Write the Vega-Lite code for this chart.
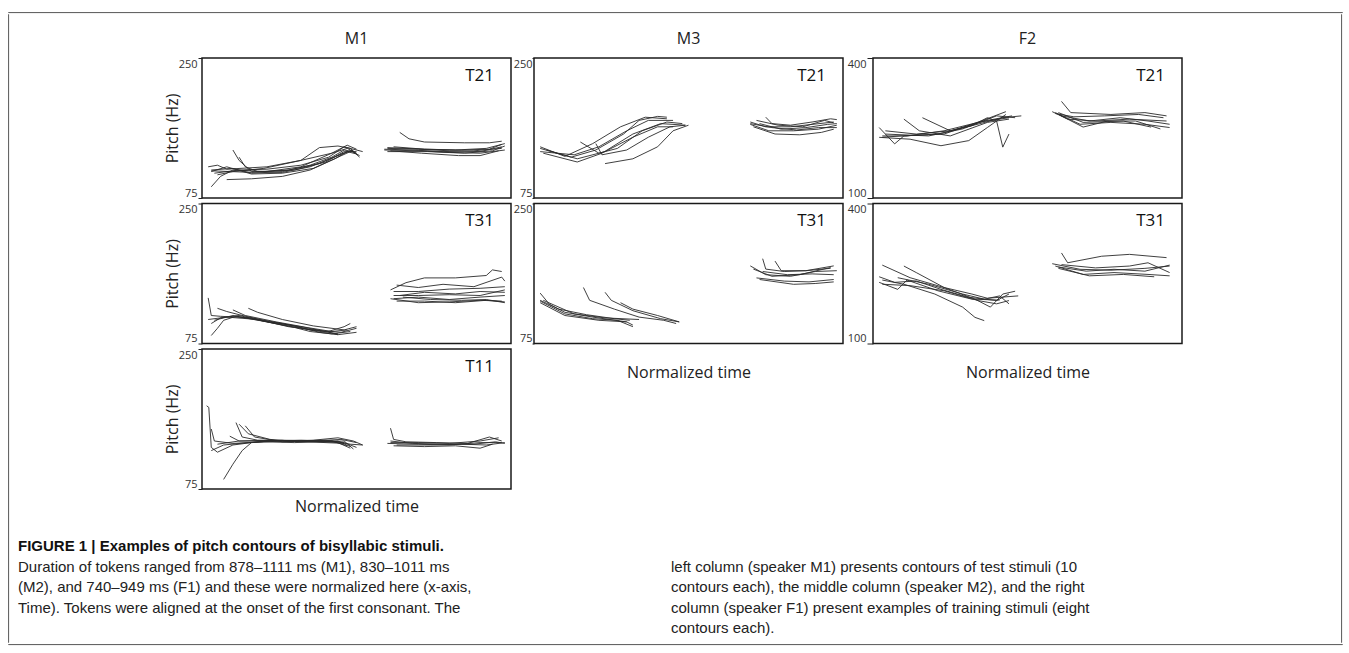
{
"$schema": "https://vega.github.io/schema/vega-lite/v6.json",
"padding": {"left": 7, "top": 11, "right": 5, "bottom": 5},
"background": "white",
"config": {
 "view": {"stroke": "#1a1a1a", "strokeWidth": 1.5},
 "font": "Open Sans",
 "axis": {"domain": false, "grid": false, "labelFlush": true, "labelFont": "Open Sans", "labelFontSize": 11, "labelColor": "#333", "labelPadding": 1, "tickColor": "#222", "titleFont": "Open Sans", "titleFontSize": 16, "titleFontWeight": "normal", "titleColor": "#222"},
 "title": {"font": "Open Sans", "fontSize": 16, "fontWeight": "normal", "color": "#222", "anchor": "middle", "frame": "group", "baseline": "alphabetic", "offset": 11}
},
"datasets": {
 "none": [],
 "m1t21": [
  {"c":"a1","t":0.03,"f":110},{"c":"a1","t":0.10,"f":112},{"c":"a1","t":0.16,"f":106},{"c":"a1","t":0.26,"f":108},{"c":"a1","t":0.35,"f":116},{"c":"a1","t":0.42,"f":126},{"c":"a1","t":0.46,"f":135},{"c":"a1","t":0.49,"f":133},{"c":"a1","t":0.51,"f":126},
  {"c":"a2","t":0.03,"f":89},{"c":"a2","t":0.06,"f":102},{"c":"a2","t":0.10,"f":110},{"c":"a2","t":0.21,"f":108},{"c":"a2","t":0.32,"f":114},{"c":"a2","t":0.42,"f":131},{"c":"a2","t":0.47,"f":137},{"c":"a2","t":0.50,"f":131},
  {"c":"a3","t":0.10,"f":135},{"c":"a3","t":0.12,"f":122},{"c":"a3","t":0.16,"f":108},{"c":"a3","t":0.26,"f":107},{"c":"a3","t":0.35,"f":114},{"c":"a3","t":0.44,"f":128},{"c":"a3","t":0.48,"f":134},{"c":"a3","t":0.51,"f":128},
  {"c":"a4","t":0.08,"f":98},{"c":"a4","t":0.16,"f":99},{"c":"a4","t":0.26,"f":102},{"c":"a4","t":0.35,"f":110},{"c":"a4","t":0.43,"f":124},{"c":"a4","t":0.47,"f":133},{"c":"a4","t":0.50,"f":130},
  {"c":"a5","t":0.02,"f":114},{"c":"a5","t":0.05,"f":116},{"c":"a5","t":0.08,"f":111},{"c":"a5","t":0.21,"f":114},{"c":"a5","t":0.32,"f":122},{"c":"a5","t":0.38,"f":138},{"c":"a5","t":0.44,"f":140},{"c":"a5","t":0.48,"f":137},{"c":"a5","t":0.50,"f":130},
  {"c":"a6","t":0.04,"f":106},{"c":"a6","t":0.12,"f":110},{"c":"a6","t":0.21,"f":111},{"c":"a6","t":0.32,"f":116},{"c":"a6","t":0.41,"f":126},{"c":"a6","t":0.46,"f":139},{"c":"a6","t":0.49,"f":136},{"c":"a6","t":0.52,"f":133},
  {"c":"a7","t":0.03,"f":108},{"c":"a7","t":0.08,"f":114},{"c":"a7","t":0.16,"f":105},{"c":"a7","t":0.26,"f":106},{"c":"a7","t":0.36,"f":112},{"c":"a7","t":0.44,"f":126},{"c":"a7","t":0.48,"f":133},
  {"c":"a8","t":0.12,"f":126},{"c":"a8","t":0.14,"f":114},{"c":"a8","t":0.18,"f":108},{"c":"a8","t":0.30,"f":110},{"c":"a8","t":0.40,"f":120},{"c":"a8","t":0.46,"f":133},{"c":"a8","t":0.50,"f":133},
  {"c":"a9","t":0.05,"f":104},{"c":"a9","t":0.10,"f":108},{"c":"a9","t":0.20,"f":112},{"c":"a9","t":0.32,"f":122},{"c":"a9","t":0.42,"f":131},{"c":"a9","t":0.47,"f":141},{"c":"a9","t":0.50,"f":136},
  {"c":"a10","t":0.03,"f":109},{"c":"a10","t":0.16,"f":107},{"c":"a10","t":0.28,"f":110},{"c":"a10","t":0.38,"f":118},{"c":"a10","t":0.45,"f":130},{"c":"a10","t":0.49,"f":135},
  {"c":"b1","t":0.64,"f":157},{"c":"b1","t":0.67,"f":149},{"c":"b1","t":0.72,"f":145},{"c":"b1","t":0.85,"f":144},{"c":"b1","t":0.93,"f":144},{"c":"b1","t":0.97,"f":146},
  {"c":"b2","t":0.60,"f":137},{"c":"b2","t":0.70,"f":136},{"c":"b2","t":0.80,"f":134},{"c":"b2","t":0.90,"f":133},{"c":"b2","t":0.97,"f":139},
  {"c":"b3","t":0.59,"f":135},{"c":"b3","t":0.70,"f":134},{"c":"b3","t":0.80,"f":132},{"c":"b3","t":0.90,"f":131},{"c":"b3","t":0.98,"f":135},
  {"c":"b4","t":0.60,"f":138},{"c":"b4","t":0.72,"f":136},{"c":"b4","t":0.82,"f":135},{"c":"b4","t":0.92,"f":137},{"c":"b4","t":0.98,"f":143},
  {"c":"b5","t":0.61,"f":134},{"c":"b5","t":0.71,"f":131},{"c":"b5","t":0.83,"f":128},{"c":"b5","t":0.90,"f":128},{"c":"b5","t":0.96,"f":134},
  {"c":"b6","t":0.59,"f":136},{"c":"b6","t":0.68,"f":135},{"c":"b6","t":0.78,"f":133},{"c":"b6","t":0.88,"f":134},{"c":"b6","t":0.97,"f":137},
  {"c":"b7","t":0.60,"f":133},{"c":"b7","t":0.73,"f":133},{"c":"b7","t":0.85,"f":131},{"c":"b7","t":0.94,"f":134},{"c":"b7","t":0.98,"f":140},
  {"c":"b8","t":0.62,"f":139},{"c":"b8","t":0.72,"f":136},{"c":"b8","t":0.84,"f":135},{"c":"b8","t":0.93,"f":136},{"c":"b8","t":0.97,"f":142}
 ],
 "m1t31": [
  {"c":"a1","t":0.02,"f":132},{"c":"a1","t":0.03,"f":110},{"c":"a1","t":0.06,"f":109},{"c":"a1","t":0.16,"f":107},{"c":"a1","t":0.26,"f":100},{"c":"a1","t":0.35,"f":92},{"c":"a1","t":0.45,"f":89},{"c":"a1","t":0.50,"f":94},
  {"c":"a2","t":0.03,"f":85},{"c":"a2","t":0.05,"f":94},{"c":"a2","t":0.07,"f":104},{"c":"a2","t":0.11,"f":109},{"c":"a2","t":0.21,"f":102},{"c":"a2","t":0.32,"f":94},{"c":"a2","t":0.40,"f":89},{"c":"a2","t":0.46,"f":96},{"c":"a2","t":0.48,"f":100},
  {"c":"a3","t":0.03,"f":100},{"c":"a3","t":0.06,"f":107},{"c":"a3","t":0.12,"f":110},{"c":"a3","t":0.21,"f":102},{"c":"a3","t":0.30,"f":95},{"c":"a3","t":0.35,"f":90},{"c":"a3","t":0.42,"f":87},{"c":"a3","t":0.48,"f":90},
  {"c":"a4","t":0.05,"f":119},{"c":"a4","t":0.08,"f":115},{"c":"a4","t":0.12,"f":111},{"c":"a4","t":0.22,"f":102},{"c":"a4","t":0.32,"f":96},{"c":"a4","t":0.40,"f":90},{"c":"a4","t":0.44,"f":86},
  {"c":"a5","t":0.15,"f":119},{"c":"a5","t":0.18,"f":114},{"c":"a5","t":0.26,"f":105},{"c":"a5","t":0.36,"f":97},{"c":"a5","t":0.46,"f":92},{"c":"a5","t":0.50,"f":96},
  {"c":"a6","t":0.04,"f":104},{"c":"a6","t":0.10,"f":110},{"c":"a6","t":0.20,"f":103},{"c":"a6","t":0.30,"f":97},{"c":"a6","t":0.38,"f":89},{"c":"a6","t":0.44,"f":86},{"c":"a6","t":0.50,"f":89},
  {"c":"a7","t":0.10,"f":117},{"c":"a7","t":0.14,"f":110},{"c":"a7","t":0.24,"f":102},{"c":"a7","t":0.34,"f":95},{"c":"a7","t":0.42,"f":90},{"c":"a7","t":0.47,"f":92},
  {"c":"a8","t":0.02,"f":105},{"c":"a8","t":0.08,"f":108},{"c":"a8","t":0.18,"f":105},{"c":"a8","t":0.28,"f":96},{"c":"a8","t":0.37,"f":92},{"c":"a8","t":0.44,"f":87},
  {"c":"b1","t":0.61,"f":142},{"c":"b1","t":0.66,"f":151},{"c":"b1","t":0.72,"f":157},{"c":"b1","t":0.82,"f":157},{"c":"b1","t":0.92,"f":160},{"c":"b1","t":0.94,"f":167},{"c":"b1","t":0.97,"f":165},
  {"c":"b2","t":0.63,"f":148},{"c":"b2","t":0.70,"f":145},{"c":"b2","t":0.78,"f":149},{"c":"b2","t":0.88,"f":146},{"c":"b2","t":0.97,"f":158},{"c":"b2","t":0.98,"f":153},
  {"c":"b3","t":0.62,"f":140},{"c":"b3","t":0.70,"f":140},{"c":"b3","t":0.80,"f":143},{"c":"b3","t":0.90,"f":144},{"c":"b3","t":0.98,"f":146},
  {"c":"b4","t":0.64,"f":135},{"c":"b4","t":0.72,"f":139},{"c":"b4","t":0.82,"f":137},{"c":"b4","t":0.90,"f":140},{"c":"b4","t":0.98,"f":139},
  {"c":"b5","t":0.62,"f":131},{"c":"b5","t":0.70,"f":133},{"c":"b5","t":0.80,"f":130},{"c":"b5","t":0.90,"f":133},{"c":"b5","t":0.98,"f":135},
  {"c":"b6","t":0.63,"f":128},{"c":"b6","t":0.72,"f":128},{"c":"b6","t":0.82,"f":126},{"c":"b6","t":0.92,"f":129},{"c":"b6","t":0.98,"f":127},
  {"c":"b7","t":0.65,"f":133},{"c":"b7","t":0.74,"f":130},{"c":"b7","t":0.84,"f":129},{"c":"b7","t":0.92,"f":130},{"c":"b7","t":0.98,"f":126},
  {"c":"b8","t":0.61,"f":131},{"c":"b8","t":0.70,"f":126},{"c":"b8","t":0.80,"f":127},{"c":"b8","t":0.90,"f":129},{"c":"b8","t":0.97,"f":128},
  {"c":"b9","t":0.62,"f":135},{"c":"b9","t":0.70,"f":135},{"c":"b9","t":0.80,"f":136},{"c":"b9","t":0.90,"f":135},{"c":"b9","t":0.98,"f":142}
 ],
 "m1t11": [
  {"c":"a1","t":0.015,"f":179},{"c":"a1","t":0.022,"f":177},{"c":"a1","t":0.03,"f":127},{"c":"a1","t":0.05,"f":121},{"c":"a1","t":0.10,"f":130},{"c":"a1","t":0.20,"f":135},{"c":"a1","t":0.32,"f":136},{"c":"a1","t":0.42,"f":135},{"c":"a1","t":0.48,"f":131},{"c":"a1","t":0.52,"f":130},
  {"c":"a2","t":0.03,"f":123},{"c":"a2","t":0.07,"f":130},{"c":"a2","t":0.15,"f":133},{"c":"a2","t":0.26,"f":136},{"c":"a2","t":0.36,"f":135},{"c":"a2","t":0.45,"f":137},{"c":"a2","t":0.50,"f":133},
  {"c":"a3","t":0.07,"f":87},{"c":"a3","t":0.10,"f":106},{"c":"a3","t":0.13,"f":123},{"c":"a3","t":0.16,"f":133},{"c":"a3","t":0.26,"f":135},{"c":"a3","t":0.38,"f":134},{"c":"a3","t":0.46,"f":135},{"c":"a3","t":0.49,"f":125},
  {"c":"a4","t":0.11,"f":158},{"c":"a4","t":0.13,"f":140},{"c":"a4","t":0.18,"f":136},{"c":"a4","t":0.28,"f":135},{"c":"a4","t":0.40,"f":136},{"c":"a4","t":0.46,"f":133},{"c":"a4","t":0.50,"f":127},
  {"c":"a5","t":0.12,"f":156},{"c":"a5","t":0.15,"f":144},{"c":"a5","t":0.22,"f":137},{"c":"a5","t":0.32,"f":134},{"c":"a5","t":0.44,"f":135},{"c":"a5","t":0.48,"f":128},
  {"c":"a6","t":0.14,"f":154},{"c":"a6","t":0.17,"f":140},{"c":"a6","t":0.26,"f":134},{"c":"a6","t":0.36,"f":136},{"c":"a6","t":0.44,"f":139},{"c":"a6","t":0.49,"f":135},{"c":"a6","t":0.52,"f":130},
  {"c":"a7","t":0.03,"f":150},{"c":"a7","t":0.04,"f":135},{"c":"a7","t":0.10,"f":132},{"c":"a7","t":0.20,"f":134},{"c":"a7","t":0.30,"f":133},{"c":"a7","t":0.42,"f":135},{"c":"a7","t":0.47,"f":129},
  {"c":"a8","t":0.05,"f":131},{"c":"a8","t":0.12,"f":135},{"c":"a8","t":0.22,"f":136},{"c":"a8","t":0.34,"f":135},{"c":"a8","t":0.44,"f":133},{"c":"a8","t":0.48,"f":126},
  {"c":"a9","t":0.09,"f":141},{"c":"a9","t":0.12,"f":135},{"c":"a9","t":0.22,"f":135},{"c":"a9","t":0.34,"f":134},{"c":"a9","t":0.46,"f":132},
  {"c":"b1","t":0.61,"f":151},{"c":"b1","t":0.62,"f":137},{"c":"b1","t":0.66,"f":134},{"c":"b1","t":0.76,"f":133},{"c":"b1","t":0.86,"f":132},{"c":"b1","t":0.93,"f":140},{"c":"b1","t":0.97,"f":135},
  {"c":"b2","t":0.60,"f":132},{"c":"b2","t":0.70,"f":131},{"c":"b2","t":0.80,"f":130},{"c":"b2","t":0.90,"f":133},{"c":"b2","t":0.97,"f":133},
  {"c":"b3","t":0.61,"f":135},{"c":"b3","t":0.68,"f":132},{"c":"b3","t":0.78,"f":131},{"c":"b3","t":0.88,"f":131},{"c":"b3","t":0.95,"f":134},{"c":"b3","t":0.98,"f":132},
  {"c":"b4","t":0.62,"f":129},{"c":"b4","t":0.72,"f":128},{"c":"b4","t":0.82,"f":129},{"c":"b4","t":0.90,"f":126},{"c":"b4","t":0.94,"f":131},
  {"c":"b5","t":0.61,"f":133},{"c":"b5","t":0.70,"f":133},{"c":"b5","t":0.80,"f":132},{"c":"b5","t":0.90,"f":135},{"c":"b5","t":0.96,"f":139},
  {"c":"b6","t":0.63,"f":130},{"c":"b6","t":0.74,"f":130},{"c":"b6","t":0.84,"f":131},{"c":"b6","t":0.92,"f":130},{"c":"b6","t":0.98,"f":133}
 ],
 "m3t21": [
  {"c":"a1","t":0.02,"f":139},{"c":"a1","t":0.10,"f":127},{"c":"a1","t":0.19,"f":143},{"c":"a1","t":0.28,"f":164},{"c":"a1","t":0.36,"f":176},{"c":"a1","t":0.43,"f":174},
  {"c":"a2","t":0.02,"f":133},{"c":"a2","t":0.13,"f":129},{"c":"a2","t":0.21,"f":139},{"c":"a2","t":0.30,"f":159},{"c":"a2","t":0.37,"f":172},{"c":"a2","t":0.45,"f":172},
  {"c":"a3","t":0.03,"f":131},{"c":"a3","t":0.14,"f":120},{"c":"a3","t":0.22,"f":131},{"c":"a3","t":0.32,"f":155},{"c":"a3","t":0.41,"f":168},{"c":"a3","t":0.49,"f":166},
  {"c":"a4","t":0.15,"f":145},{"c":"a4","t":0.21,"f":131},{"c":"a4","t":0.27,"f":137},{"c":"a4","t":0.35,"f":159},{"c":"a4","t":0.43,"f":170},{"c":"a4","t":0.48,"f":168},
  {"c":"a5","t":0.20,"f":143},{"c":"a5","t":0.22,"f":129},{"c":"a5","t":0.30,"f":135},{"c":"a5","t":0.37,"f":151},{"c":"a5","t":0.44,"f":164},{"c":"a5","t":0.49,"f":166},
  {"c":"a6","t":0.23,"f":118},{"c":"a6","t":0.32,"f":124},{"c":"a6","t":0.40,"f":139},{"c":"a6","t":0.45,"f":159},{"c":"a6","t":0.50,"f":166},
  {"c":"a7","t":0.02,"f":137},{"c":"a7","t":0.12,"f":126},{"c":"a7","t":0.20,"f":135},{"c":"a7","t":0.29,"f":155},{"c":"a7","t":0.34,"f":172},{"c":"a7","t":0.40,"f":177},{"c":"a7","t":0.43,"f":176},
  {"c":"a8","t":0.04,"f":135},{"c":"a8","t":0.14,"f":124},{"c":"a8","t":0.23,"f":133},{"c":"a8","t":0.32,"f":151},{"c":"a8","t":0.40,"f":164},{"c":"a8","t":0.45,"f":164},
  {"c":"b1","t":0.75,"f":176},{"c":"b1","t":0.77,"f":168},{"c":"b1","t":0.83,"f":166},{"c":"b1","t":0.90,"f":170},{"c":"b1","t":0.96,"f":174},{"c":"b1","t":0.98,"f":173},
  {"c":"b2","t":0.70,"f":170},{"c":"b2","t":0.75,"f":164},{"c":"b2","t":0.83,"f":164},{"c":"b2","t":0.90,"f":167},{"c":"b2","t":0.97,"f":170},
  {"c":"b3","t":0.70,"f":167},{"c":"b3","t":0.76,"f":159},{"c":"b3","t":0.84,"f":159},{"c":"b3","t":0.92,"f":161},{"c":"b3","t":0.98,"f":166},
  {"c":"b4","t":0.71,"f":164},{"c":"b4","t":0.78,"f":155},{"c":"b4","t":0.86,"f":154},{"c":"b4","t":0.93,"f":157},{"c":"b4","t":0.97,"f":161},
  {"c":"b5","t":0.73,"f":168},{"c":"b5","t":0.80,"f":161},{"c":"b5","t":0.88,"f":163},{"c":"b5","t":0.95,"f":167},{"c":"b5","t":0.98,"f":168},
  {"c":"b6","t":0.72,"f":172},{"c":"b6","t":0.79,"f":166},{"c":"b6","t":0.87,"f":164},{"c":"b6","t":0.94,"f":172},{"c":"b6","t":0.97,"f":169},
  {"c":"b7","t":0.70,"f":168},{"c":"b7","t":0.77,"f":163},{"c":"b7","t":0.85,"f":160},{"c":"b7","t":0.92,"f":163},{"c":"b7","t":0.98,"f":163}
 ],
 "m3t31": [
  {"c":"a1","t":0.02,"f":138},{"c":"a1","t":0.05,"f":124},{"c":"a1","t":0.10,"f":114},{"c":"a1","t":0.19,"f":108},{"c":"a1","t":0.30,"f":102},{"c":"a1","t":0.32,"f":98},
  {"c":"a2","t":0.02,"f":129},{"c":"a2","t":0.08,"f":118},{"c":"a2","t":0.17,"f":111},{"c":"a2","t":0.26,"f":106},{"c":"a2","t":0.31,"f":104},
  {"c":"a3","t":0.02,"f":126},{"c":"a3","t":0.10,"f":110},{"c":"a3","t":0.21,"f":104},{"c":"a3","t":0.30,"f":102},
  {"c":"a4","t":0.16,"f":145},{"c":"a4","t":0.18,"f":129},{"c":"a4","t":0.26,"f":118},{"c":"a4","t":0.34,"f":108},{"c":"a4","t":0.42,"f":104},{"c":"a4","t":0.46,"f":100},
  {"c":"a5","t":0.23,"f":139},{"c":"a5","t":0.25,"f":129},{"c":"a5","t":0.32,"f":116},{"c":"a5","t":0.41,"f":106},{"c":"a5","t":0.47,"f":102},
  {"c":"a6","t":0.28,"f":126},{"c":"a6","t":0.32,"f":118},{"c":"a6","t":0.40,"f":110},{"c":"a6","t":0.47,"f":102},
  {"c":"a7","t":0.02,"f":128},{"c":"a7","t":0.10,"f":112},{"c":"a7","t":0.19,"f":106},{"c":"a7","t":0.27,"f":104},{"c":"a7","t":0.32,"f":96},
  {"c":"a8","t":0.03,"f":129},{"c":"a8","t":0.13,"f":112},{"c":"a8","t":0.23,"f":107},{"c":"a8","t":0.34,"f":105},
  {"c":"b1","t":0.74,"f":181},{"c":"b1","t":0.75,"f":168},{"c":"b1","t":0.81,"f":165},{"c":"b1","t":0.88,"f":166},{"c":"b1","t":0.97,"f":172},
  {"c":"b2","t":0.78,"f":178},{"c":"b2","t":0.80,"f":166},{"c":"b2","t":0.88,"f":166},{"c":"b2","t":0.96,"f":169},
  {"c":"b3","t":0.70,"f":172},{"c":"b3","t":0.75,"f":161},{"c":"b3","t":0.83,"f":159},{"c":"b3","t":0.91,"f":165},{"c":"b3","t":0.98,"f":166},
  {"c":"b4","t":0.72,"f":157},{"c":"b4","t":0.81,"f":153},{"c":"b4","t":0.89,"f":152},{"c":"b4","t":0.97,"f":155},
  {"c":"b5","t":0.73,"f":155},{"c":"b5","t":0.84,"f":149},{"c":"b5","t":0.91,"f":150},{"c":"b5","t":0.97,"f":152},
  {"c":"b6","t":0.74,"f":165},{"c":"b6","t":0.82,"f":161},{"c":"b6","t":0.90,"f":162},{"c":"b6","t":0.97,"f":161},
  {"c":"b7","t":0.71,"f":168},{"c":"b7","t":0.77,"f":159},{"c":"b7","t":0.86,"f":161},{"c":"b7","t":0.96,"f":170}
 ],
 "f2t21": [
  {"c":"a1","t":0.02,"f":251},{"c":"a1","t":0.07,"f":216},{"c":"a1","t":0.10,"f":233},{"c":"a1","t":0.21,"f":237},{"c":"a1","t":0.32,"f":255},{"c":"a1","t":0.42,"f":272},{"c":"a1","t":0.48,"f":276},
  {"c":"a2","t":0.03,"f":233},{"c":"a2","t":0.11,"f":233},{"c":"a2","t":0.23,"f":244},{"c":"a2","t":0.34,"f":262},{"c":"a2","t":0.44,"f":272},
  {"c":"a3","t":0.04,"f":244},{"c":"a3","t":0.14,"f":237},{"c":"a3","t":0.25,"f":244},{"c":"a3","t":0.36,"f":265},{"c":"a3","t":0.45,"f":276},
  {"c":"a4","t":0.02,"f":230},{"c":"a4","t":0.12,"f":226},{"c":"a4","t":0.22,"f":212},{"c":"a4","t":0.31,"f":223},{"c":"a4","t":0.37,"f":251},{"c":"a4","t":0.43,"f":279},
  {"c":"a5","t":0.10,"f":269},{"c":"a5","t":0.15,"f":244},{"c":"a5","t":0.25,"f":233},{"c":"a5","t":0.37,"f":262},{"c":"a5","t":0.44,"f":269},
  {"c":"a6","t":0.16,"f":272},{"c":"a6","t":0.25,"f":244},{"c":"a6","t":0.32,"f":255},{"c":"a6","t":0.37,"f":272},{"c":"a6","t":0.40,"f":265},{"c":"a6","t":0.42,"f":209},{"c":"a6","t":0.44,"f":237},
  {"c":"a7","t":0.03,"f":230},{"c":"a7","t":0.09,"f":233},{"c":"a7","t":0.23,"f":237},{"c":"a7","t":0.35,"f":265},{"c":"a7","t":0.43,"f":285},
  {"c":"a8","t":0.04,"f":237},{"c":"a8","t":0.18,"f":233},{"c":"a8","t":0.29,"f":248},{"c":"a8","t":0.40,"f":276},{"c":"a8","t":0.46,"f":272},
  {"c":"b1","t":0.61,"f":307},{"c":"b1","t":0.64,"f":283},{"c":"b1","t":0.77,"f":279},{"c":"b1","t":0.88,"f":283},{"c":"b1","t":0.95,"f":276},
  {"c":"b2","t":0.58,"f":285},{"c":"b2","t":0.63,"f":269},{"c":"b2","t":0.72,"f":265},{"c":"b2","t":0.83,"f":269},{"c":"b2","t":0.95,"f":265},
  {"c":"b3","t":0.59,"f":283},{"c":"b3","t":0.67,"f":258},{"c":"b3","t":0.77,"f":262},{"c":"b3","t":0.88,"f":258},{"c":"b3","t":0.96,"f":251},
  {"c":"b4","t":0.60,"f":279},{"c":"b4","t":0.68,"f":252},{"c":"b4","t":0.76,"f":265},{"c":"b4","t":0.85,"f":265},{"c":"b4","t":0.93,"f":248},
  {"c":"b5","t":0.59,"f":281},{"c":"b5","t":0.65,"f":274},{"c":"b5","t":0.75,"f":276},{"c":"b5","t":0.86,"f":279},{"c":"b5","t":0.94,"f":272},
  {"c":"b6","t":0.61,"f":276},{"c":"b6","t":0.70,"f":265},{"c":"b6","t":0.80,"f":272},{"c":"b6","t":0.89,"f":265},{"c":"b6","t":0.96,"f":258},
  {"c":"b7","t":0.60,"f":283},{"c":"b7","t":0.68,"f":262},{"c":"b7","t":0.81,"f":265},{"c":"b7","t":0.90,"f":252}
 ],
 "f2t31": [
  {"c":"a1","t":0.03,"f":268},{"c":"a1","t":0.12,"f":241},{"c":"a1","t":0.23,"f":220},{"c":"a1","t":0.32,"f":206},{"c":"a1","t":0.37,"f":197},{"c":"a1","t":0.41,"f":199},{"c":"a1","t":0.47,"f":202},
  {"c":"a2","t":0.02,"f":243},{"c":"a2","t":0.07,"f":231},{"c":"a2","t":0.14,"f":234},{"c":"a2","t":0.22,"f":216},{"c":"a2","t":0.31,"f":199},{"c":"a2","t":0.40,"f":192},{"c":"a2","t":0.44,"f":206},
  {"c":"a3","t":0.02,"f":231},{"c":"a3","t":0.08,"f":216},{"c":"a3","t":0.11,"f":236},{"c":"a3","t":0.21,"f":213},{"c":"a3","t":0.32,"f":195},{"c":"a3","t":0.41,"f":193},
  {"c":"a4","t":0.10,"f":266},{"c":"a4","t":0.14,"f":252},{"c":"a4","t":0.23,"f":220},{"c":"a4","t":0.33,"f":195},{"c":"a4","t":0.38,"f":178},{"c":"a4","t":0.42,"f":206},{"c":"a4","t":0.46,"f":212},
  {"c":"a5","t":0.03,"f":236},{"c":"a5","t":0.10,"f":227},{"c":"a5","t":0.20,"f":206},{"c":"a5","t":0.29,"f":178},{"c":"a5","t":0.33,"f":156},{"c":"a5","t":0.36,"f":149},
  {"c":"a6","t":0.03,"f":227},{"c":"a6","t":0.12,"f":224},{"c":"a6","t":0.23,"f":213},{"c":"a6","t":0.34,"f":192},{"c":"a6","t":0.40,"f":185},{"c":"a6","t":0.44,"f":192},
  {"c":"a7","t":0.08,"f":241},{"c":"a7","t":0.18,"f":227},{"c":"a7","t":0.29,"f":206},{"c":"a7","t":0.36,"f":195},{"c":"a7","t":0.41,"f":202},{"c":"a7","t":0.44,"f":185},
  {"c":"b1","t":0.61,"f":294},{"c":"b1","t":0.63,"f":273},{"c":"b1","t":0.74,"f":287},{"c":"b1","t":0.83,"f":291},{"c":"b1","t":0.95,"f":284},
  {"c":"b2","t":0.58,"f":271},{"c":"b2","t":0.67,"f":259},{"c":"b2","t":0.77,"f":257},{"c":"b2","t":0.88,"f":261},{"c":"b2","t":0.96,"f":266},
  {"c":"b3","t":0.59,"f":266},{"c":"b3","t":0.68,"f":248},{"c":"b3","t":0.78,"f":252},{"c":"b3","t":0.89,"f":248},{"c":"b3","t":0.96,"f":245},
  {"c":"b4","t":0.60,"f":261},{"c":"b4","t":0.70,"f":245},{"c":"b4","t":0.81,"f":248},{"c":"b4","t":0.91,"f":243},
  {"c":"b5","t":0.61,"f":269},{"c":"b5","t":0.72,"f":262},{"c":"b5","t":0.83,"f":266},{"c":"b5","t":0.89,"f":273},{"c":"b5","t":0.96,"f":252},
  {"c":"b6","t":0.60,"f":264},{"c":"b6","t":0.69,"f":255},{"c":"b6","t":0.78,"f":259},{"c":"b6","t":0.88,"f":255},{"c":"b6","t":0.96,"f":268}
 ],
 "caption": [
  {"col":"left","line":0,"txt":"FIGURE 1 | Examples of pitch contours of bisyllabic stimuli.","w":"bold"},
  {"col":"left","line":1,"txt":"Duration of tokens ranged from 878–1111 ms (M1), 830–1011 ms","w":"body"},
  {"col":"left","line":2,"txt":"(M2), and 740–949 ms (F1) and these were normalized here (x-axis,","w":"body"},
  {"col":"left","line":3,"txt":"Time). Tokens were aligned at the onset of the first consonant. The","w":"body"},
  {"col":"right","line":1,"txt":"left column (speaker M1) presents contours of test stimuli (10","w":"body"},
  {"col":"right","line":2,"txt":"contours each), the middle column (speaker M2), and the right","w":"body"},
  {"col":"right","line":3,"txt":"column (speaker F1) present examples of training stimuli (eight","w":"body"},
  {"col":"right","line":4,"txt":"contours each).","w":"body"}
 ]
},
"spacing": 0,
"vconcat": [
 {"width": 1334, "height": 0.1, "view": {"stroke": "#666", "strokeWidth": 1}, "data": {"name": "none"}, "mark": {"type": "text"}, "encoding": {"text": {"field": "k"}}},
 {"spacing": 4, "hconcat": [
  {"width": 0.1, "height": 628, "view": {"stroke": "#666", "strokeWidth": 1}, "data": {"name": "none"}, "mark": {"type": "text"}, "encoding": {"text": {"field": "k"}}},
  {"spacing": 0, "vconcat": [
   {"width": 10, "height": 15, "view": {"stroke": null}, "data": {"name": "none"}, "mark": {"type": "text"}, "encoding": {"text": {"field": "k"}}},
   {"spacing": 24, "vconcat": [
    {"spacing": 0, "hconcat": [
     {"width": 150, "height": 10, "view": {"stroke": null}, "data": {"name": "none"}, "mark": {"type": "text"}, "encoding": {"text": {"field": "k"}}},
     {"bounds": "flush", "spacing": 5.5, "vconcat": [
      {"width": 309, "height": 140, "title": {"text": "M1"}, "layer": [
       {"data": {"name": "m1t21"}, "mark": {"type": "line", "strokeWidth": 0.9, "color": "#2a2a2a"}, "encoding": {
        "x": {"field": "t", "type": "quantitative", "scale": {"domain": [0, 1], "nice": false, "zero": false}, "axis": null},
        "y": {"field": "f", "type": "quantitative", "scale": {"domain": [75, 250], "nice": false, "zero": false}, "axis": {"values": [75, 250], "title": "Pitch (Hz)", "tickSize": 4, "titlePadding": -2}},
        "detail": {"field": "c"}}},
       {"data": {"values": [{"lab": "T21"}]}, "mark": {"type": "text", "align": "right", "baseline": "middle", "fontSize": 17, "font": "Open Sans", "color": "#111"}, "encoding": {"x": {"datum": 0.945}, "y": {"datum": 228}, "text": {"field": "lab"}}}
      ]},
      {"width": 309, "height": 140, "layer": [
       {"data": {"name": "m1t31"}, "mark": {"type": "line", "strokeWidth": 0.9, "color": "#2a2a2a"}, "encoding": {
        "x": {"field": "t", "type": "quantitative", "scale": {"domain": [0, 1], "nice": false, "zero": false}, "axis": null},
        "y": {"field": "f", "type": "quantitative", "scale": {"domain": [75, 250], "nice": false, "zero": false}, "axis": {"values": [75, 250], "title": "Pitch (Hz)", "tickSize": 4, "titlePadding": -2}},
        "detail": {"field": "c"}}},
       {"data": {"values": [{"lab": "T31"}]}, "mark": {"type": "text", "align": "right", "baseline": "middle", "fontSize": 17, "font": "Open Sans", "color": "#111"}, "encoding": {"x": {"datum": 0.945}, "y": {"datum": 228}, "text": {"field": "lab"}}}
      ]},
      {"width": 309, "height": 140, "layer": [
       {"data": {"name": "m1t11"}, "mark": {"type": "line", "strokeWidth": 0.9, "color": "#2a2a2a"}, "encoding": {
        "x": {"field": "t", "type": "quantitative", "scale": {"domain": [0, 1], "nice": false, "zero": false}, "axis": {"title": "Normalized time", "labels": false, "ticks": false, "domain": false, "titlePadding": 9}},
        "y": {"field": "f", "type": "quantitative", "scale": {"domain": [75, 250], "nice": false, "zero": false}, "axis": {"values": [75, 250], "title": "Pitch (Hz)", "tickSize": 4, "titlePadding": -2}},
        "detail": {"field": "c"}}},
       {"data": {"values": [{"lab": "T11"}]}, "mark": {"type": "text", "align": "right", "baseline": "middle", "fontSize": 17, "font": "Open Sans", "color": "#111"}, "encoding": {"x": {"datum": 0.945}, "y": {"datum": 228}, "text": {"field": "lab"}}}
      ]}
     ]},
     {"bounds": "flush", "spacing": 5.5, "vconcat": [
      {"width": 309, "height": 140, "title": {"text": "M3"}, "layer": [
       {"data": {"name": "m3t21"}, "mark": {"type": "line", "strokeWidth": 0.9, "color": "#2a2a2a"}, "encoding": {
        "x": {"field": "t", "type": "quantitative", "scale": {"domain": [0, 1], "nice": false, "zero": false}, "axis": null},
        "y": {"field": "f", "type": "quantitative", "scale": {"domain": [75, 250], "nice": false, "zero": false}, "axis": {"values": [75, 250], "title": null, "tickSize": 2, "labelPadding": 0}},
        "detail": {"field": "c"}}},
       {"data": {"values": [{"lab": "T21"}]}, "mark": {"type": "text", "align": "right", "baseline": "middle", "fontSize": 17, "font": "Open Sans", "color": "#111"}, "encoding": {"x": {"datum": 0.945}, "y": {"datum": 228}, "text": {"field": "lab"}}}
      ]},
      {"width": 309, "height": 140, "layer": [
       {"data": {"name": "m3t31"}, "mark": {"type": "line", "strokeWidth": 0.9, "color": "#2a2a2a"}, "encoding": {
        "x": {"field": "t", "type": "quantitative", "scale": {"domain": [0, 1], "nice": false, "zero": false}, "axis": {"title": "Normalized time", "labels": false, "ticks": false, "domain": false, "titlePadding": 21}},
        "y": {"field": "f", "type": "quantitative", "scale": {"domain": [75, 250], "nice": false, "zero": false}, "axis": {"values": [75, 250], "title": null, "tickSize": 2, "labelPadding": 0}},
        "detail": {"field": "c"}}},
       {"data": {"values": [{"lab": "T31"}]}, "mark": {"type": "text", "align": "right", "baseline": "middle", "fontSize": 17, "font": "Open Sans", "color": "#111"}, "encoding": {"x": {"datum": 0.945}, "y": {"datum": 228}, "text": {"field": "lab"}}}
      ]}
     ]},
     {"width": 2, "height": 10, "view": {"stroke": null}, "data": {"name": "none"}, "mark": {"type": "text"}, "encoding": {"text": {"field": "k"}}},
     {"bounds": "flush", "spacing": 5.5, "vconcat": [
      {"width": 309, "height": 140, "title": {"text": "F2"}, "layer": [
       {"data": {"name": "f2t21"}, "mark": {"type": "line", "strokeWidth": 0.9, "color": "#2a2a2a"}, "encoding": {
        "x": {"field": "t", "type": "quantitative", "scale": {"domain": [0, 1], "nice": false, "zero": false}, "axis": null},
        "y": {"field": "f", "type": "quantitative", "scale": {"domain": [100, 400], "nice": false, "zero": false}, "axis": {"values": [100, 400], "title": null, "tickSize": 6}},
        "detail": {"field": "c"}}},
       {"data": {"values": [{"lab": "T21"}]}, "mark": {"type": "text", "align": "right", "baseline": "middle", "fontSize": 17, "font": "Open Sans", "color": "#111"}, "encoding": {"x": {"datum": 0.945}, "y": {"datum": 362}, "text": {"field": "lab"}}}
      ]},
      {"width": 309, "height": 140, "layer": [
       {"data": {"name": "f2t31"}, "mark": {"type": "line", "strokeWidth": 0.9, "color": "#2a2a2a"}, "encoding": {
        "x": {"field": "t", "type": "quantitative", "scale": {"domain": [0, 1], "nice": false, "zero": false}, "axis": {"title": "Normalized time", "labels": false, "ticks": false, "domain": false, "titlePadding": 21}},
        "y": {"field": "f", "type": "quantitative", "scale": {"domain": [100, 400], "nice": false, "zero": false}, "axis": {"values": [100, 400], "title": null, "tickSize": 6}},
        "detail": {"field": "c"}}},
       {"data": {"values": [{"lab": "T31"}]}, "mark": {"type": "text", "align": "right", "baseline": "middle", "fontSize": 17, "font": "Open Sans", "color": "#111"}, "encoding": {"x": {"datum": 0.945}, "y": {"datum": 362}, "text": {"field": "lab"}}}
      ]}
     ]}
    ]},
    {"width": 1323, "height": 82, "view": {"stroke": null}, "data": {"name": "caption"},
     "encoding": {
      "x": {"field": "col", "type": "ordinal", "bandPosition": 0, "scale": {"type": "band", "domain": ["left", "right"], "paddingInner": 0, "paddingOuter": 0.013}, "axis": null},
      "y": {"field": "line", "type": "ordinal", "scale": {"type": "point", "domain": [0, 1, 2, 3, 4], "padding": 0}, "axis": null},
      "text": {"field": "txt"}},
     "layer": [
      {"transform": [{"filter": "datum.w === 'bold'"}], "mark": {"type": "text", "align": "left", "baseline": "middle", "dx": -3.5, "font": "Liberation Sans", "fontSize": 15, "fontWeight": "bold", "color": "#111"}},
      {"transform": [{"filter": "datum.w === 'body'"}], "mark": {"type": "text", "align": "left", "baseline": "middle", "dx": -3.5, "font": "Liberation Sans", "fontSize": 15, "color": "#222"}}
     ]}
   ]}
  ]},
  {"width": 0.1, "height": 628, "view": {"stroke": "#666", "strokeWidth": 1}, "data": {"name": "none"}, "mark": {"type": "text"}, "encoding": {"text": {"field": "k"}}}
 ]},
 {"width": 1334, "height": 0.1, "view": {"stroke": "#666", "strokeWidth": 1}, "data": {"name": "none"}, "mark": {"type": "text"}, "encoding": {"text": {"field": "k"}}}
]
}
